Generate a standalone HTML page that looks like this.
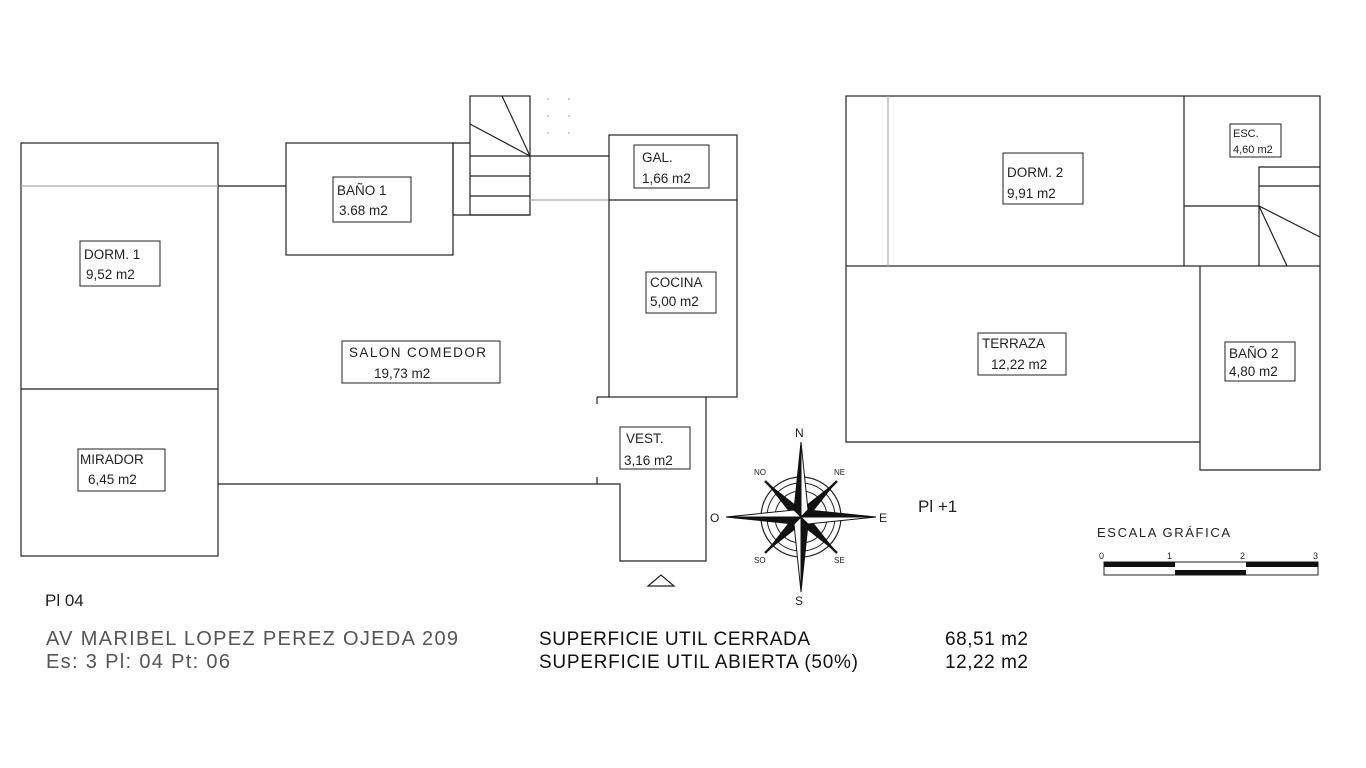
<!DOCTYPE html>
<html><head><style>
body{margin:0;background:#fff;}
svg{display:block;font-family:"Liberation Sans",sans-serif;}
</style></head><body>
<svg width="1366" height="768" viewBox="0 0 1366 768" xmlns="http://www.w3.org/2000/svg">
<g fill="none" stroke="#222" stroke-width="1.2">
<rect x="21" y="143" width="197" height="413"/>
<line x1="21" y1="389" x2="218" y2="389"/>
<line x1="21" y1="186" x2="218" y2="186" stroke="#aaa"/>
<line x1="218" y1="186" x2="286" y2="186"/>
<rect x="286" y="143" width="167" height="112"/>
<line x1="453" y1="143" x2="470" y2="143"/>
<line x1="453" y1="143" x2="453" y2="215"/>
<line x1="453" y1="215" x2="530" y2="215"/>
<rect x="470" y="96" width="60" height="119"/>
<line x1="470" y1="156" x2="609" y2="156"/>
<line x1="470" y1="176" x2="530" y2="176"/>
<line x1="470" y1="196" x2="530" y2="196"/>
<line x1="530" y1="156" x2="502" y2="96"/>
<line x1="530" y1="156" x2="470" y2="124"/>
<line x1="530" y1="200" x2="609" y2="200" stroke="#aaa"/>
<rect x="609" y="135" width="128" height="262"/>
<line x1="609" y1="200" x2="737" y2="200"/>
<line x1="597" y1="397" x2="609" y2="397"/>
<line x1="597" y1="397" x2="597" y2="404"/>
<line x1="597" y1="477" x2="597" y2="484"/>
<polyline points="706,397 706,561 620,561 620,484 218,484"/>
<polygon points="648,586 674,586 661,575"/>
<rect x="846" y="96" width="474" height="170"/>
<line x1="888" y1="96" x2="888" y2="266" stroke="#aaa"/>
<line x1="1184" y1="96" x2="1184" y2="266"/>
<line x1="1184" y1="206" x2="1259" y2="206"/>
<polyline points="1259,266 1259,167 1320,167"/>
<line x1="1259" y1="186" x2="1320" y2="186"/>
<line x1="1259" y1="206" x2="1320" y2="237"/>
<line x1="1259" y1="206" x2="1287" y2="266"/>
<polyline points="846,266 846,442 1200,442"/>
<polyline points="1200,266 1200,470 1320,470 1320,266"/>
</g>
<g fill="#999">
<circle cx="548" cy="99" r="0.8"/><circle cx="569" cy="99" r="0.8"/>
<circle cx="548" cy="116" r="0.8"/><circle cx="569" cy="116" r="0.8"/>
<circle cx="548" cy="133" r="0.8"/><circle cx="569" cy="133" r="0.8"/>
</g>
<g fill="#fff" stroke="#222" stroke-width="1">
<rect x="80" y="241" width="80" height="45"/>
<rect x="78" y="449" width="87" height="42"/>
<rect x="333" y="177" width="78" height="45"/>
<rect x="342" y="341" width="158" height="42"/>
<rect x="634" y="145" width="75" height="43"/>
<rect x="646" y="272" width="70" height="41"/>
<rect x="620" y="427" width="70" height="42"/>
<rect x="1003" y="153" width="80" height="51"/>
<rect x="1230" y="124" width="51" height="33"/>
<rect x="978" y="333" width="88" height="42"/>
<rect x="1225" y="342" width="70" height="39"/>
</g>
<g font-size="13.5" fill="#222">
<text x="84" y="259">DORM. 1</text><text x="86" y="279">9,52 m2</text>
<text x="80" y="464">MIRADOR</text><text x="88" y="484">6,45 m2</text>
<text x="337" y="195">BAÑO 1</text><text x="339" y="215">3.68 m2</text>
<text x="349" y="357" textLength="137">SALON COMEDOR</text><text x="374" y="378">19,73 m2</text>
<text x="642" y="162">GAL.</text><text x="642" y="183">1,66 m2</text>
<text x="650" y="287">COCINA</text><text x="650" y="306">5,00 m2</text>
<text x="626" y="443">VEST.</text><text x="624" y="465">3,16 m2</text>
<text x="1007" y="177">DORM. 2</text><text x="1007" y="198">9,91 m2</text>
<text x="1233" y="137" font-size="11">ESC.</text><text x="1233" y="153" font-size="11">4,60 m2</text>
<text x="982" y="348">TERRAZA</text><text x="991" y="369">12,22 m2</text>
<text x="1229" y="358">BAÑO 2</text><text x="1229" y="376">4,80 m2</text>
</g>
<g transform="translate(801,517)">
<circle r="40" fill="none" stroke="#222" stroke-width="1.2"/>
<circle r="34" fill="none" stroke="#222" stroke-width="1"/>
<circle r="26" fill="none" stroke="#222" stroke-width="1"/>
<g stroke="#222" stroke-width="2.5">
<line x1="-28" y1="-28" x2="-36" y2="-36"/><line x1="28" y1="-28" x2="36" y2="-36"/>
<line x1="-28" y1="28" x2="-36" y2="36"/><line x1="28" y1="28" x2="36" y2="36"/>
</g>
<g stroke="#111" stroke-width="1">
<polygon points="-34,-34 -4,4 4,-4" fill="#111"/>
<polygon points="34,-34 4,4 -4,-4" fill="#111"/>
<polygon points="-34,34 4,4 -4,-4" fill="#111"/>
<polygon points="34,34 -4,4 4,-4" fill="#111"/>
<polygon points="0,-75 7,-7 0,0" fill="#fff"/><polygon points="0,-75 -7,-7 0,0" fill="#111"/>
<polygon points="0,75 -7,7 0,0" fill="#fff"/><polygon points="0,75 7,7 0,0" fill="#111"/>
<polygon points="75,0 7,7 0,0" fill="#fff"/><polygon points="75,0 7,-7 0,0" fill="#111"/>
<polygon points="-75,0 -7,-7 0,0" fill="#fff"/><polygon points="-75,0 -7,7 0,0" fill="#111"/>
</g>
</g>
<g fill="#222">
<text x="795" y="437" font-size="12">N</text><text x="795" y="605" font-size="12">S</text>
<text x="710" y="522" font-size="12">O</text><text x="879" y="522" font-size="12">E</text>
<text x="754" y="475" font-size="8">NO</text><text x="834" y="475" font-size="8">NE</text>
<text x="754" y="563" font-size="8">SO</text><text x="834" y="563" font-size="8">SE</text>
</g>
<text x="918" y="512" font-size="17" fill="#222">Pl +1</text>
<text x="1097" y="537" font-size="13" fill="#222" textLength="133">ESCALA GRÁFICA</text>
<g font-size="9" fill="#222"><text x="1099" y="559">0</text><text x="1167" y="559">1</text><text x="1240" y="559">2</text><text x="1313" y="559">3</text></g>
<rect x="1104" y="562" width="214" height="13" fill="#fff" stroke="#222"/>
<rect x="1104" y="562" width="71" height="5" fill="#111"/>
<rect x="1175" y="570" width="71" height="5" fill="#111"/>
<rect x="1246" y="562" width="72" height="5" fill="#111"/>
<text x="45" y="606" font-size="17" fill="#222">Pl 04</text>
<text x="46" y="645" font-size="20" fill="#555" textLength="412">AV MARIBEL LOPEZ PEREZ OJEDA 209</text>
<text x="46" y="668" font-size="20" fill="#555" textLength="184">Es: 3  Pl: 04  Pt: 06</text>
<text x="539" y="645" font-size="19" fill="#111" textLength="271">SUPERFICIE UTIL CERRADA</text>
<text x="539" y="668" font-size="19" fill="#111" textLength="319">SUPERFICIE UTIL ABIERTA (50%)</text>
<text x="945" y="645" font-size="19" fill="#111" textLength="83">68,51 m2</text>
<text x="945" y="668" font-size="19" fill="#111" textLength="83">12,22 m2</text>
</svg>
</body></html>
